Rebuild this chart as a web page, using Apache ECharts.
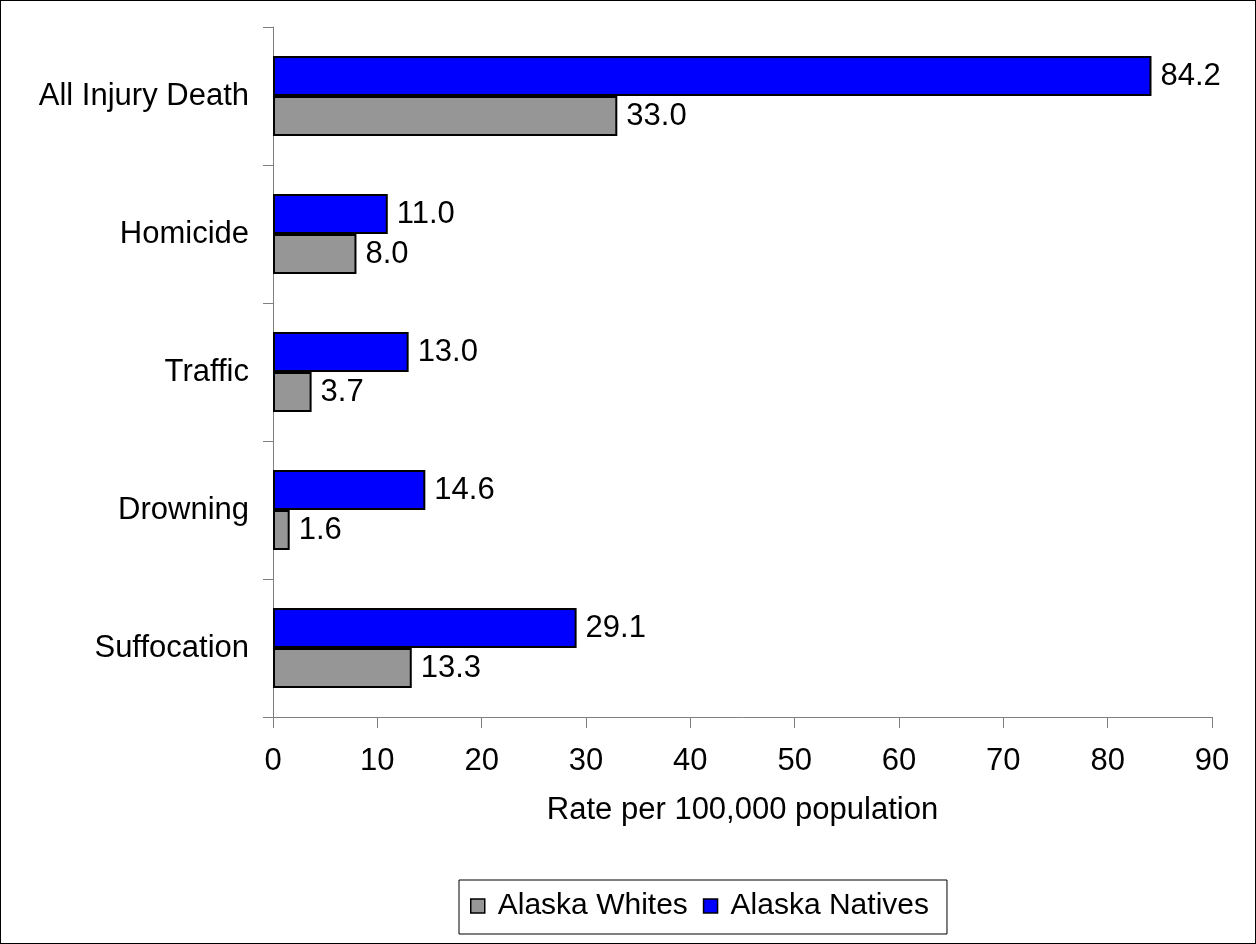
<!DOCTYPE html>
<html>
<head>
<meta charset="utf-8">
<script src="https://cdn.jsdelivr.net/npm/echarts@6/dist/echarts.min.js"></script>
<style>
  html, body { margin: 0; padding: 0; background: #fff; }
  #chart { width: 1256px; height: 944px; box-sizing: border-box; border: 1px solid #000; }
</style>
</head>
<body>
<div id="chart"></div>
<script>
// categories, top to bottom
var categories = ['All Injury Death', 'Homicide', 'Traffic', 'Drowning', 'Suffocation'];
var whites = [33.0, 8.0, 3.7, 1.6, 13.3];
var natives = [84.2, 11.0, 13.0, 14.6, 29.1];
var xTicks = [0, 10, 20, 30, 40, 50, 60, 70, 80, 90];

var font = 'Liberation Sans, Arial, sans-serif';
var chart = echarts.init(document.getElementById('chart'));

function valLabel() {
  return {
    show: true,
    position: 'right',
    distance: 9,
    color: '#000',
    fontFamily: font,
    fontSize: 31,
    formatter: function (p) { return p.value.toFixed(1); }
  };
}

chart.setOption({
  animation: false,
  grid: { left: 272, right: 43, top: 26, bottom: 226 },
  xAxis: {
    type: 'value',
    min: xTicks[0],
    max: xTicks[xTicks.length - 1],
    interval: 10,
    splitLine: { show: false },
    axisLine: { show: true, onZero: false, lineStyle: { color: '#808080', width: 1 } },
    axisTick: { show: true, length: 11, lineStyle: { color: '#808080' } },
    axisLabel: { color: '#000', fontFamily: font, fontSize: 31, margin: 29 },
    name: 'Rate per 100,000 population',
    nameLocation: 'middle',
    nameGap: 78,
    nameTextStyle: { color: '#000', fontFamily: font, fontSize: 31 }
  },
  yAxis: {
    type: 'category',
    inverse: true,
    data: categories,
    axisLine: { show: true, lineStyle: { color: '#808080', width: 1 } },
    axisTick: { show: true, length: 10, lineStyle: { color: '#808080' } },
    axisLabel: { color: '#000', fontFamily: font, fontSize: 31, margin: 24 }
  },
  legend: {
    left: 458,
    top: 879,
    orient: 'horizontal',
    data: ['Alaska Whites', 'Alaska Natives'],
    icon: 'rect',
    itemWidth: 14,
    itemHeight: 14,
    itemGap: 15,
    padding: [11, 18, 13, 11],
    borderColor: '#000',
    borderWidth: 1,
    textStyle: { color: '#000', fontFamily: font, fontSize: 30, padding: [0, 0, 0, 8] },
    itemStyle: { borderColor: '#000', borderWidth: 1.5 }
  },
  series: [
    {
      name: 'Alaska Natives',
      type: 'bar',
      data: natives,
      barGap: '0%',
      barCategoryGap: '42%',
      itemStyle: { color: '#0000ff', borderColor: '#000', borderWidth: 2 },
      label: valLabel()
    },
    {
      name: 'Alaska Whites',
      type: 'bar',
      data: whites,
      itemStyle: { color: '#969696', borderColor: '#000', borderWidth: 2 },
      label: valLabel()
    }
  ]
});
</script>
</body>
</html>
